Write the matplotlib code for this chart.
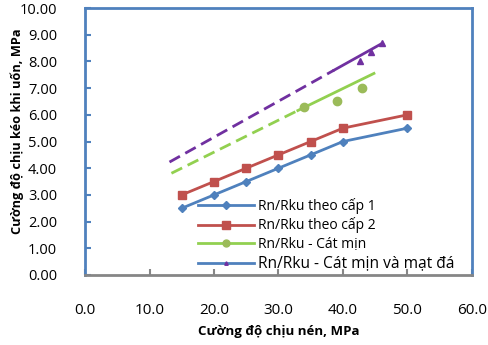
import matplotlib.pyplot as plt
from matplotlib.lines import Line2D

plt.rcParams['font.family'] = ['Open Sans', 'DejaVu Sans']

# Data
x_cap = [15, 20, 25, 30, 35, 40, 50]
y_cap1 = [2.5, 3.0, 3.5, 4.0, 4.5, 5.0, 5.5]
y_cap2 = [3.0, 3.5, 4.0, 4.5, 5.0, 5.5, 6.0]

x_cat = [34, 39, 43]
y_cat = [6.3, 6.5, 7.0]
x_cat_solid = [33.0, 44.8]
y_cat_solid = [6.16, 7.55]
x_cat_dash = [13.4, 33.0]
y_cat_dash = [3.81, 6.16]

x_mat = [42.6, 44.4, 46.1]
y_mat = [8.0, 8.35, 8.68]
x_mat_solid = [38.6, 46.1]
y_mat_solid = [7.67, 8.68]
x_mat_dash = [13.1, 38.6]
y_mat_dash = [4.23, 7.67]

labels = ['Rn/Rku theo cấp 1', 'Rn/Rku theo cấp 2', 'Rn/Rku - Cát mịn',
          'Rn/Rku - Cát mịn và mạt đá']

blue = '#4F81BD'
red = '#C0504D'
green = '#92D050'
green_mk = '#9BBB59'
purple = '#7030A0'

fig = plt.figure(figsize=(4.89, 3.45), dpi=100)
ax = fig.add_axes([85 / 489, 1 - 275 / 345, (472 - 85) / 489, (275 - 8) / 345])

ax.plot(x_cap, y_cap1, color=blue, lw=2, marker='D', ms=4.5, zorder=3)
ax.plot(x_cap, y_cap2, color=red, lw=2, marker='s', ms=6, zorder=3)

ax.plot(x_cat_dash, y_cat_dash, color=green, lw=2, dashes=(4.3, 2.2))
ax.plot(x_cat_solid, y_cat_solid, color=green, lw=2)
ax.plot(x_cat, y_cat, ls='none', marker='o', ms=6, color=green_mk, zorder=3)

ax.plot(x_mat_dash, y_mat_dash, color=purple, lw=2, dashes=(4.3, 2.2))
ax.plot(x_mat_solid, y_mat_solid, color=purple, lw=2)
ax.plot(x_mat, y_mat, ls='none', marker='^', ms=4.5, color=purple, zorder=3)

ax.set_xlim(0, 60)
ax.set_ylim(0, 10)
ax.set_xticks(range(0, 61, 10))
ax.set_yticks(range(0, 11, 1))
ax.set_xticklabels(['%.1f' % v for v in range(0, 61, 10)])
ax.set_yticklabels(['%.2f' % v for v in range(0, 11, 1)])

for s in ['left', 'top', 'right']:
    ax.spines[s].set_color(blue)
    ax.spines[s].set_linewidth(2)
ax.spines['bottom'].set_color('#868686')
ax.spines['bottom'].set_linewidth(2)

ax.tick_params(axis='y', direction='in', length=4, width=1.5, color=blue,
               labelsize=10.5, pad=20)
ax.tick_params(axis='x', direction='in', length=4, width=1.5, color='#868686',
               labelsize=11, pad=20)

ax.set_xlabel('Cường độ chịu nén, MPa', fontsize=9.5, fontweight='bold', labelpad=5)
ax.set_ylabel('Cường độ chịu kéo khi uốn, MPa', fontsize=9.2, fontweight='bold')
ax.yaxis.set_label_coords(-0.158, 0.54)

handles = [
    Line2D([], [], color=blue, lw=2, marker='D', ms=4.5),
    Line2D([], [], color=red, lw=2, marker='s', ms=6),
    Line2D([], [], color=green, lw=2, marker='o', ms=5, mfc=green_mk, mec=green_mk),
    Line2D([], [], color=blue, lw=2, marker='^', ms=2.5, mfc=purple, mec=purple),
]
leg = ax.legend(handles, labels, loc='upper left',
                bbox_to_anchor=(198 / 489, 1 - 198 / 345), bbox_transform=fig.transFigure,
                frameon=False, fontsize=10, handlelength=4.0, handletextpad=0.3,
                labelspacing=0.25, borderpad=0, borderaxespad=0)
leg.get_texts()[3].set_fontsize(11.2)

fig.savefig('out.png', dpi=100)
